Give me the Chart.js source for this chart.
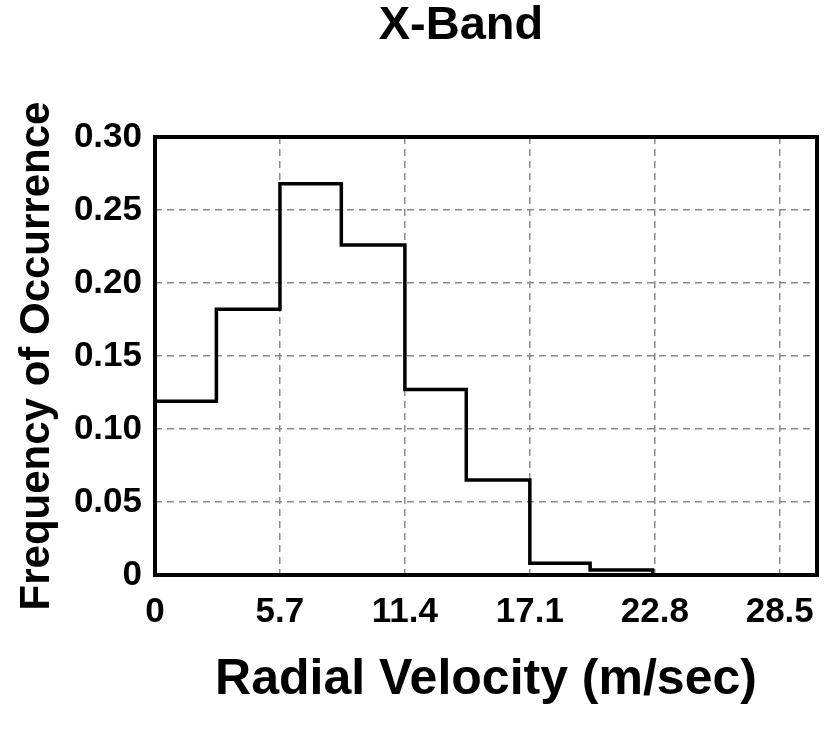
<!DOCTYPE html>
<html><head><meta charset="utf-8">
<script src="https://cdn.jsdelivr.net/npm/chart.js@4.4.0/dist/chart.umd.min.js"></script>
<style>html,body{margin:0;padding:0;background:#fff}#wrap{width:824px;height:729px;position:relative}</style>
</head><body><div id="wrap"><canvas id="c"></canvas></div>
<script>
const chartTitle = 'X-Band';
const xAxisTitle = 'Radial Velocity (m/sec)';
const yAxisTitle = 'Frequency of Occurrence';
const binStarts = [0, 2.8, 5.7, 8.5, 11.4, 14.2, 17.1, 19.85, 22.7];
const frequency = [0.119, 0.182, 0.268, 0.226, 0.127, 0.065, 0.008, 0.0035, 0];
const xTickValues = [0, 5.7, 11.4, 17.1, 22.8, 28.5];
const xTickLabels = ['0', '5.7', '11.4', '17.1', '22.8', '28.5'];
const yTickValues = [0, 0.05, 0.10, 0.15, 0.20, 0.25, 0.30];
const yTickLabels = ['0', '0.05', '0.10', '0.15', '0.20', '0.25', '0.30'];
const xMin = 0, xMax = 30.2, yMin = 0, yMax = 0.30;

const FONT = "'Liberation Sans', Arial, Helvetica, sans-serif";
const points = binStarts.map((x, i) => ({x: x, y: frequency[i]}));

const framePlugin = {
  id: 'frame',
  afterDraw(chart) {
    const {ctx, chartArea: a} = chart;
    ctx.save();
    ctx.lineWidth = 4;
    ctx.strokeStyle = '#000';
    ctx.strokeRect(a.left, a.top, a.right - a.left, a.bottom - a.top);
    ctx.restore();
  }
};
const titlePlugin = {
  id: 'customTitle',
  afterDraw(chart) {
    const {ctx} = chart;
    ctx.save();
    ctx.font = "bold 47px " + FONT;
    ctx.fillStyle = '#000';
    ctx.textAlign = 'center';
    ctx.textBaseline = 'middle';
    ctx.fillText(chartTitle, 461, 26);
    ctx.restore();
  }
};

new Chart(document.getElementById('c'), {
  type: 'line',
  data: {
    datasets: [{
      data: points,
      stepped: true,
      borderColor: '#000',
      borderWidth: 3.5,
      pointRadius: 0,
      fill: false,
      clip: false
    }]
  },
  options: {
    responsive: true,
    maintainAspectRatio: false,
    animation: false,
    layout: {padding: {top: 137, right: 7, left: 0, bottom: 0}},
    plugins: {legend: {display: false}, tooltip: {enabled: false}, title: {display: false}},
    scales: {
      x: {
        type: 'linear',
        min: xMin, max: xMax,
        afterBuildTicks(s) { s.ticks = xTickValues.map(v => ({value: v})); },
        afterFit(s) { s.height = 154; s.paddingRight = 0; s.paddingLeft = 0; },
        ticks: {
          autoSkip: false, maxRotation: 0, padding: 16,
          color: '#000',
          font: {family: FONT, size: 35, weight: 'bold'},
          callback: (v, i) => xTickLabels[i]
        },
        grid: {color: '#8a8a8a', lineWidth: 1.5, drawTicks: false},
        border: {display: false, dash: [7, 5]},
        title: {display: true, text: xAxisTitle, color: '#000',
          font: {family: FONT, size: 50, weight: 'bold'}, padding: {top: 0, bottom: 19}}
      },
      y: {
        type: 'linear',
        min: yMin, max: yMax,
        afterBuildTicks(s) { s.ticks = yTickValues.map(v => ({value: v})); },
        afterFit(s) { s.width = 155; },
        ticks: {
          autoSkip: false, padding: 13,
          color: '#000',
          font: {family: FONT, size: 35, weight: 'bold'},
          callback: (v, i) => yTickLabels[i]
        },
        grid: {color: '#8a8a8a', lineWidth: 1.5, drawTicks: false},
        border: {display: false, dash: [7, 5]},
        title: {display: true, text: yAxisTitle, color: '#000',
          font: {family: FONT, size: 42, weight: 'bold'}, padding: {top: 12, bottom: 0}}
      }
    }
  },
  plugins: [framePlugin, titlePlugin]
});
</script></body></html>
